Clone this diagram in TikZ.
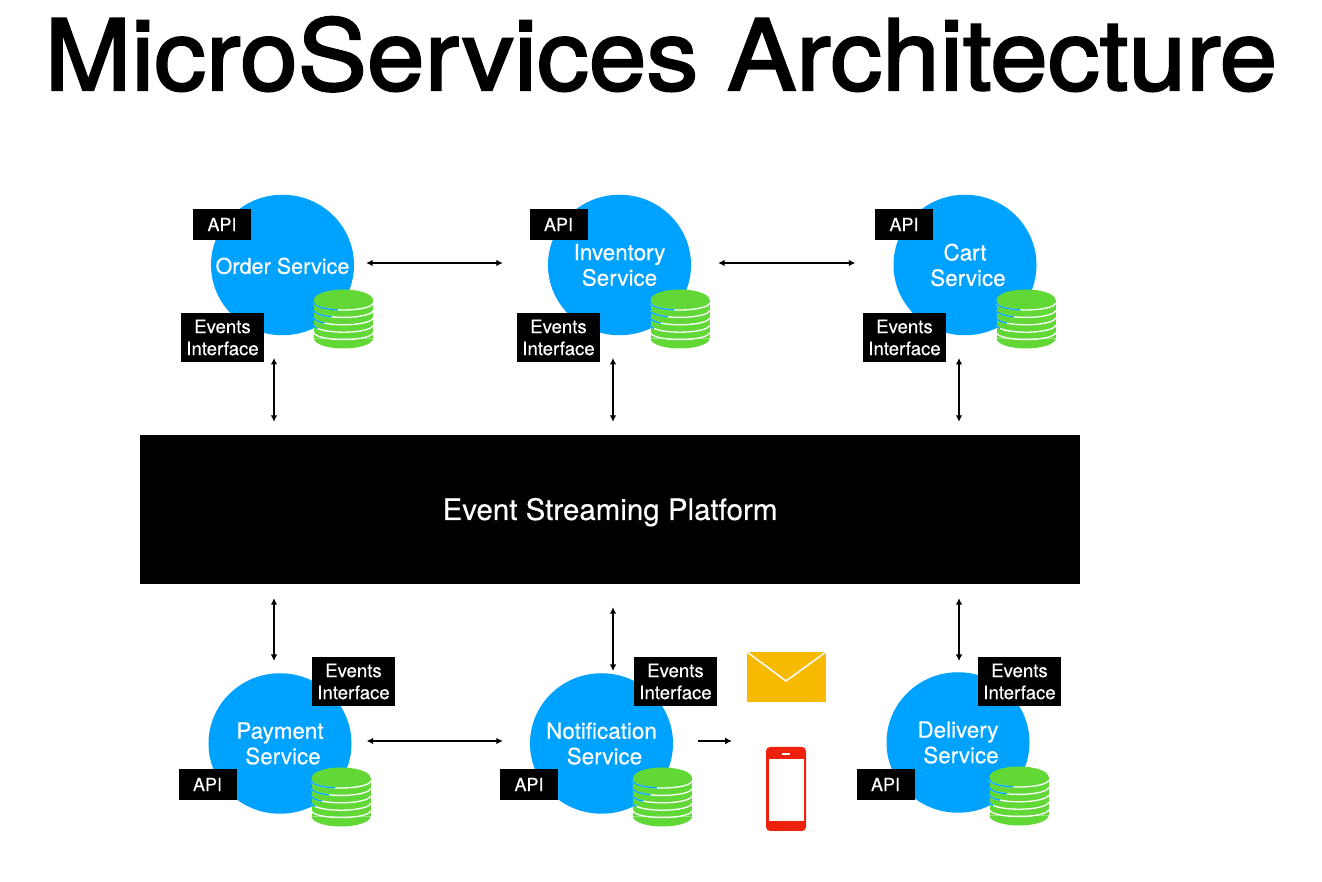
\documentclass[tikz,border=0pt]{standalone}
\usepackage{fontspec}
\setmainfont[FakeBold=0.25]{TeX Gyre Heros}
\newfontfamily\titlefont[FakeBold=2.2,FakeStretch=1.058]{TeX Gyre Heros}
\usetikzlibrary{arrows.meta,shapes.geometric}
\definecolor{svcblue}{HTML}{00A2FF}
\definecolor{dbgreen}{HTML}{61D836}
\definecolor{mailorange}{HTML}{F8BA00}
\definecolor{phonered}{HTML}{EE220C}
\tikzset{
  service/.style={ellipse,fill=svcblue,text=white,minimum width=143pt,minimum height=140.5pt,inner xsep=-40pt,inner ysep=-10pt,align=center,font=\fontsize{22.4}{25.5}\selectfont,execute at begin node={\rule{0pt}{18pt}}},
  apibox/.style={fill=black,text=white,minimum width=58pt,minimum height=31pt,inner sep=0pt,font=\fontsize{18}{22}\selectfont},
  evbox/.style={fill=black,text=white,minimum width=83pt,minimum height=49pt,inner sep=0pt,align=center,font=\fontsize{18.6}{22}\selectfont,execute at begin node={\rule{0pt}{21pt}}},
  biarrow/.style={{Latex[length=6.5pt,width=6.5pt]}-{Latex[length=6.5pt,width=6.5pt]},line width=1.1pt,black},
  onearrow/.style={-{Latex[length=7pt,width=7pt]},line width=1.1pt,black},
  database/.pic={
    \fill[dbgreen] (0,0) ellipse[x radius=29.5pt,y radius=10.5pt];
    \fill[dbgreen] (-29.5pt,0) rectangle (29.5pt,-38.5pt);
    \fill[dbgreen] (-29.5pt,-38.5pt) arc[start angle=180,delta angle=180,x radius=29.5pt,y radius=10pt] -- cycle;
    \foreach \k in {0,1,2,3,4}{
      \draw[white,line width=1.3pt] (-29.5pt,-3pt-7.4pt*\k) arc[start angle=180,delta angle=180,x radius=29.5pt,y radius=7pt];
    }
    \draw[svcblue,line width=1.3pt] (-29.5pt,-3pt) arc[start angle=180,delta angle=79,x radius=29.5pt,y radius=7pt];
    \draw[svcblue,line width=1.3pt] (-29.5pt,-10.4pt) arc[start angle=180,delta angle=66,x radius=29.5pt,y radius=7pt];
    \draw[svcblue,line width=1.3pt] (-29.5pt,-17.8pt) arc[start angle=180,delta angle=50,x radius=29.5pt,y radius=7pt];
    \draw[svcblue,line width=1.3pt] (-29.5pt,-25.2pt) arc[start angle=180,delta angle=28,x radius=29.5pt,y radius=7pt];
  }
}
\begin{document}
\begin{tikzpicture}[x=1pt,y=1pt]
\useasboundingbox (0,0) rectangle (1322,882);
\node[text=black,inner sep=0pt,anchor=base,font=\titlefont\fontsize{98}{110}\selectfont] (title) at (661,792) {MicroServices Architecture};

% top row
\node[service,font=\fontsize{21.6}{25.5}\selectfont,execute at begin node={}] (order) at (282.5,617) {Order Service};
\node[service] (inventory) at (619.5,617) {Inventory\\Service};
\node[service] (cart) at (965,617) {Cart\\\hspace*{6pt}Service};
% bottom row
\node[service] (payment) at (280,138.5) {Payment\\\hspace*{6pt}Service};
\node[service] (notification) at (601.5,138.5) {Notification\\\hspace*{6pt}Service};
\node[service] (delivery) at (958,139.5) {Delivery\\\hspace*{6pt}Service};

% databases
\pic at (343.5,582) {database};
\pic at (680,582) {database};
\pic at (1026,582) {database};
\pic at (341,104) {database};
\pic at (662.5,104) {database};
\pic at (1019,105) {database};

% API boxes
\node[apibox] (api1) at (222,657.5) {API};
\node[apibox] (api2) at (558.5,657.5) {API};
\node[apibox] (api3) at (904,657.5) {API};
\node[apibox] (api4) at (207.5,97.5) {API};
\node[apibox] (api5) at (529,97.5) {API};
\node[apibox] (api6) at (885.5,97.5) {API};

% events boxes
\node[evbox] (ev1) at (222.5,544.5) {Events\\Interface};
\node[evbox] (ev2) at (558.5,544.5) {Events\\Interface};
\node[evbox] (ev3) at (904.5,544.5) {Events\\Interface};
\node[evbox] (ev4) at (353.5,200.5) {Events\\Interface};
\node[evbox] (ev5) at (675.5,200.5) {Events\\Interface};
\node[evbox] (ev6) at (1019.5,200.5) {Events\\Interface};

% platform
\node[fill=black,text=white,minimum width=940pt,minimum height=149pt,inner sep=0pt,font=\fontsize{29.5}{32}\selectfont,text height=21pt,text depth=0pt] (platform) at (610,372.5) {Event Streaming Platform};

% free ends of the vertical arrows
\coordinate (t1) at (274,524);
\coordinate (t2) at (613,524);
\coordinate (t3) at (959,524);
\coordinate (b1) at (274,221);
\coordinate (b2) at (613,211);
\coordinate (b3) at (959,221);

\draw[biarrow,shorten >=13pt] (t1) -- (t1 |- platform.north);
\draw[biarrow,shorten >=13pt] (t2) -- (t2 |- platform.north);
\draw[biarrow,shorten >=13pt] (t3) -- (t3 |- platform.north);
\draw[biarrow,shorten <=14pt] (b1 |- platform.south) -- (b1);
\draw[biarrow,shorten <=23pt] (b2 |- platform.south) -- (b2);
\draw[biarrow,shorten <=14pt] (b3 |- platform.south) -- (b3);

% horizontal arrows
\draw[biarrow,shorten <=12pt,shorten >=45pt] ([yshift=2pt]order.east) -- ([yshift=2pt]order.east -| inventory.west);
\draw[biarrow,shorten <=27pt,shorten >=38pt] ([yshift=2pt]inventory.east) -- ([yshift=2pt]inventory.east -| cart.west);
\draw[biarrow,shorten <=15pt,shorten >=27pt] ([yshift=2.5pt]payment.east) -- ([yshift=2.5pt]payment.east -| notification.west);

% envelope
\node[fill=mailorange,minimum width=79pt,minimum height=50pt,inner sep=0pt] (mail) at (786.5,205) {};
\draw[white,line width=1.5pt] (mail.north west) -- (786,201) -- (mail.north east);

% phone
\node[fill=phonered,rounded corners=4pt,minimum width=40pt,minimum height=84pt,inner sep=0pt] (phone) at (786,93) {};
\node[fill=white,minimum width=35pt,minimum height=62pt,inner sep=0pt] (screen) at (786.5,92) {};
\node[fill=white,minimum width=8pt,minimum height=2pt,inner sep=0pt] (speaker) at (786,128) {};

\coordinate (pout) at (732,141);
\draw[onearrow] (notification.east |- pout) ++(25pt,0) -- (pout);
\end{tikzpicture}
\end{document}
